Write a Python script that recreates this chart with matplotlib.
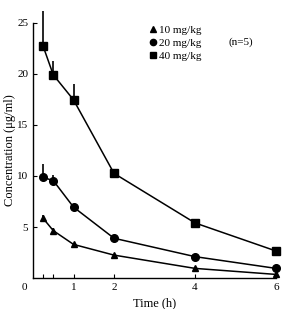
import matplotlib
matplotlib.use("Agg")
import matplotlib.pyplot as plt
import numpy as np

# sampling times (h)
time = [0.25, 0.5, 1, 2, 4, 6]

# mean concentrations (ug/ml) per dose
conc_10 = [5.85, 4.65, 3.3, 2.25, 0.95, 0.36]
conc_20 = [9.85, 9.55, 6.95, 3.9, 2.1, 0.95]
conc_40 = [22.7, 19.9, 17.45, 10.25, 5.4, 2.65]

# upper error (SD) per dose
err_10 = [0.3, 0.3, 0.1, 0.1, 0.1, 0.05]
err_20 = [1.3, 0.5, 0.15, 0.1, 0.15, 0.1]
err_40 = [3.4, 1.4, 1.55, 0.3, 0.35, 0.1]

labels = ["10 mg/kg", "20 mg/kg", "40 mg/kg"]

plt.rcParams["font.family"] = ["Liberation Serif", "DejaVu Serif"]
plt.rcParams["font.size"] = 8

fig = plt.figure(figsize=(2.82, 3.09), dpi=100)
ax = fig.add_axes([0.117, 0.100, 0.862, 0.8265])

series = [(conc_10, err_10, "^", 4.5), (conc_20, err_20, "o", 5.5),
          (conc_40, err_40, "s", 6.0)]
handles = []
for (c, e, m, ms), lab in zip(series, labels):
    ax.errorbar(time, c, yerr=[np.zeros(len(e)), e], fmt="none",
                ecolor="black", elinewidth=1.2, capsize=0, clip_on=False)
    h, = ax.plot(time, c, marker=m, color="black", lw=1.1, ms=ms, label=lab,
                 clip_on=False)
    handles.append(h)

ax.set_xlim(0, 6)
ax.set_ylim(0, 25)
ax.set_xticks([1, 2, 4, 6])
ax.set_xticks([0.25, 0.5], minor=True)
ax.set_yticks([5, 10, 15, 20, 25])
ax.tick_params(direction="in", length=3, width=0.8, labelsize=8)
ax.tick_params(which="minor", direction="in", length=3, width=0.8)
for s in ("top", "right"):
    ax.spines[s].set_visible(False)
for s in ("left", "bottom"):
    ax.spines[s].set_linewidth(1.0)

ax.annotate("0", (0, 0), xytext=(-6, -6.5), textcoords="offset points",
            ha="center", va="center", fontsize=8)

ax.set_xlabel("Time (h)", fontsize=9, labelpad=4)
ax.set_ylabel("Concentration (μg/ml)", fontsize=9, labelpad=1)

leg_handles = [plt.Line2D([], [], marker=h.get_marker(), color="black", ls="none",
                          ms=4.5) for h in handles]
ax.legend(leg_handles, labels, loc="upper left", bbox_to_anchor=(0.458, 1.008),
          frameon=False, handlelength=0.7, handletextpad=0.25, labelspacing=0.3,
          fontsize=8, borderaxespad=0)
ax.text(0.805, 0.922, "(n=5)", transform=ax.transAxes, fontsize=8, va="center")

fig.savefig("out.png", dpi=100)
